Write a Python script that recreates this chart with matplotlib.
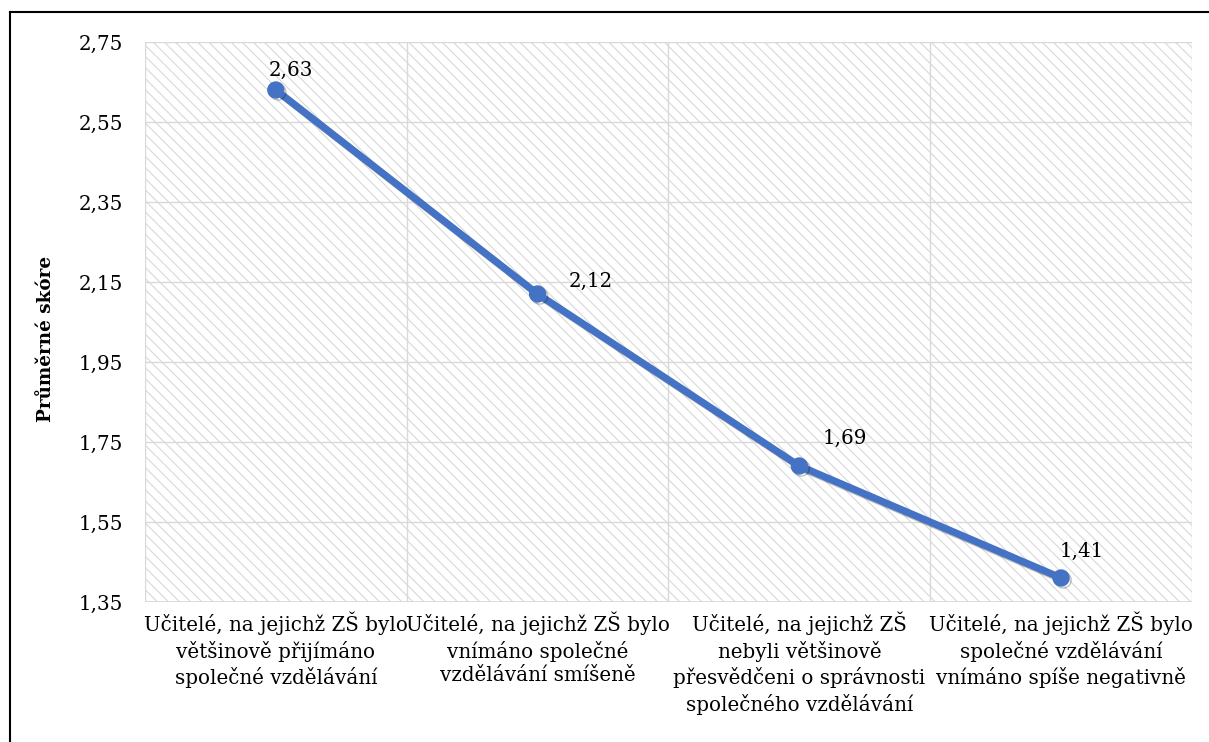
import matplotlib
matplotlib.use("Agg")
import matplotlib.pyplot as plt
import matplotlib.patheffects as pe
from matplotlib.lines import Line2D

# Average score per group of teachers
categories = [
    "Učitelé, na jejichž ZŠ bylo\nvětšinově přijímáno\nspolečné vzdělávání",
    "Učitelé, na jejichž ZŠ bylo\nvnímáno společné\nvzdělávání smíšeně",
    "Učitelé, na jejichž ZŠ\nnebyli většinově\npřesvědčeni o správnosti\nspolečného vzdělávání",
    "Učitelé, na jejichž ZŠ bylo\nspolečné vzdělávání\nvnímáno spíše negativně",
]
scores = [2.63, 2.12, 1.69, 1.41]
y_ticks = [1.35, 1.55, 1.75, 1.95, 2.15, 2.35, 2.55, 2.75]
y_label = "Průměrné skóre"

FONT = ["DejaVu Serif"]
FS = 14.3
LINE_BLUE = "#4472C4"
GRID = "#d9d9d9"

plt.rcParams["font.family"] = FONT
plt.rcParams["hatch.linewidth"] = 0.8

fig = plt.figure(figsize=(12.09, 7.42), dpi=100)
ax = fig.add_axes([0.1199, 0.1887, 0.866, 0.7547])

x = list(range(len(categories)))
ax.set_xlim(-0.5, len(categories) - 0.5)
ax.set_ylim(y_ticks[0], y_ticks[-1])

# hatched plot-area background
ax.patch.set_facecolor("white")
ax.add_patch(plt.Rectangle((0, 0), 1, 1, transform=ax.transAxes,
                           facecolor="white", edgecolor="#d8d8d8",
                           hatch="\\\\\\", linewidth=0, zorder=0))

# gridlines
for yt in y_ticks:
    ax.axhline(yt, color=GRID, lw=1, zorder=1)
for b in [i - 0.5 for i in range(len(categories) + 1)]:
    ax.axvline(b, color=GRID, lw=1, zorder=1)
ax.axhline(y_ticks[0], color=GRID, lw=2, zorder=1)

for s in ax.spines.values():
    s.set_visible(False)

ax.plot(x, scores, color=LINE_BLUE, lw=5.2, marker="o", markersize=11.5,
        solid_capstyle="round", zorder=3,
        path_effects=[pe.SimpleLineShadow(offset=(1.5, -1.5), shadow_color="black",
                                          alpha=0.25),
                      pe.Normal()])

# value labels
label_offsets = [(15, 20), (53, 13), (45, 28), (21, 27)]
for xi, v, off in zip(x, scores, label_offsets):
    ax.annotate(f"{v:.2f}".replace(".", ","), (xi, v), xytext=off,
                textcoords="offset pixels", ha="center", va="center",
                fontsize=FS, color="black", zorder=4)

ax.set_xticks(x)
ax.set_xticklabels(categories, fontsize=FS, linespacing=1.32)
ax.set_yticks(y_ticks)
ax.set_yticklabels([f"{t:.2f}".replace(".", ",") for t in y_ticks], fontsize=FS)
ax.tick_params(length=0, pad=7)
ax.tick_params(axis="y", pad=16)
ax.set_ylabel(y_label, fontsize=13.2, fontweight="bold")
ax.yaxis.set_label_coords(-0.086, 0.47)

# frame edges of the chart
fig.add_artist(Line2D([10 / 1209, 10 / 1209], [0, 1 - 12 / 742],
                      transform=fig.transFigure, color="black", lw=1.5))
fig.add_artist(Line2D([10 / 1209, 1], [1 - 12 / 742, 1 - 12 / 742],
                      transform=fig.transFigure, color="black", lw=1.5))

fig.savefig("out.png", dpi=100)
